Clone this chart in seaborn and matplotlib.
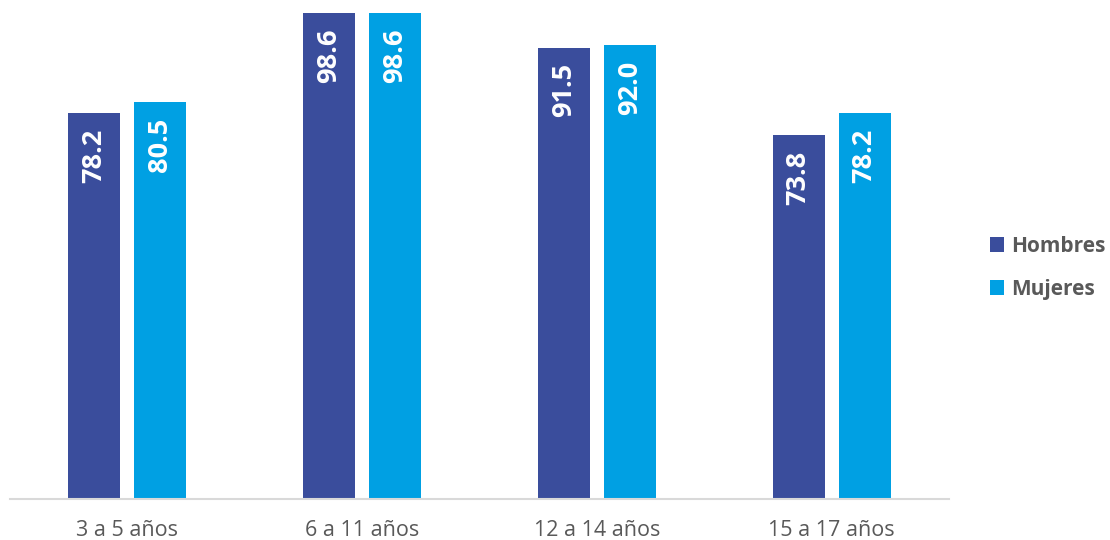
import matplotlib
matplotlib.use("Agg")
import matplotlib.pyplot as plt
import seaborn as sns
import pandas as pd
from matplotlib.patches import Patch

categories = ["3 a 5 años", "6 a 11 años", "12 a 14 años", "15 a 17 años"]
hombres = [78.2, 98.6, 91.5, 73.8]
mujeres = [80.5, 98.6, 92.0, 78.2]
series = ["Hombres", "Mujeres"]
colors = {"Hombres": "#3A4D9C", "Mujeres": "#00A0E3"}

df = pd.DataFrame({
    "cat": categories * 2,
    "serie": ["Hombres"] * 4 + ["Mujeres"] * 4,
    "val": hombres + mujeres,
})

sns.set_style("white")
plt.rcParams["font.family"] = ["Open Sans", "DejaVu Sans"]

W, H = 1110, 540
fig = plt.figure(figsize=(W / 100, H / 100), dpi=100)
ax = fig.add_axes([10 / W, (H - 499) / H, (949 - 10) / W, (499 - 6) / H])

sns.barplot(data=df, x="cat", y="val", hue="serie", order=categories,
            hue_order=series, palette=colors, width=0.503, gap=0.117,
            ax=ax, legend=False, saturation=1, linewidth=0)

# fine-tune bar geometry (width and dodge offset, in data units)
bar_w = 0.222
offsets = [-0.1407, 0.1407]
for k, cont in enumerate(ax.containers):
    for j, bar in enumerate(cont):
        bar.set_width(bar_w)
        bar.set_x(j + offsets[k] - bar_w / 2)

ax.set_xlim(-0.5, 3.5)
ax.set_ylim(0, 100)
ax.set_xlabel("")
ax.set_ylabel("")
ax.set_yticks([])
for s in ["top", "right", "left"]:
    ax.spines[s].set_visible(False)
ax.spines["bottom"].set_color("#D9D9D9")
ax.spines["bottom"].set_linewidth(1.5)
ax.tick_params(axis="x", length=0, pad=15, labelsize=15.5, labelcolor="#595959")

for cont in ax.containers:
    for bar in cont:
        h = bar.get_height()
        ax.annotate(f"{h:.1f}", xy=(bar.get_x() + bar.get_width() / 2, h),
                    xytext=(0, -11), textcoords="offset points",
                    rotation=90, ha="center", va="top", color="white",
                    fontsize=19.5, fontweight="bold")

handles = [Patch(facecolor=colors[s], edgecolor="none") for s in series]
leg = fig.legend(handles, series, loc="center left", bbox_to_anchor=(971 / W, 1 - 268 / H),
                 frameon=False, handlelength=0.7, handleheight=0.7, handletextpad=0.35,
                 labelspacing=1.05, prop={"size": 15, "weight": "bold"})
for t in leg.get_texts():
    t.set_color("#595959")

fig.savefig("out.png", dpi=100)
